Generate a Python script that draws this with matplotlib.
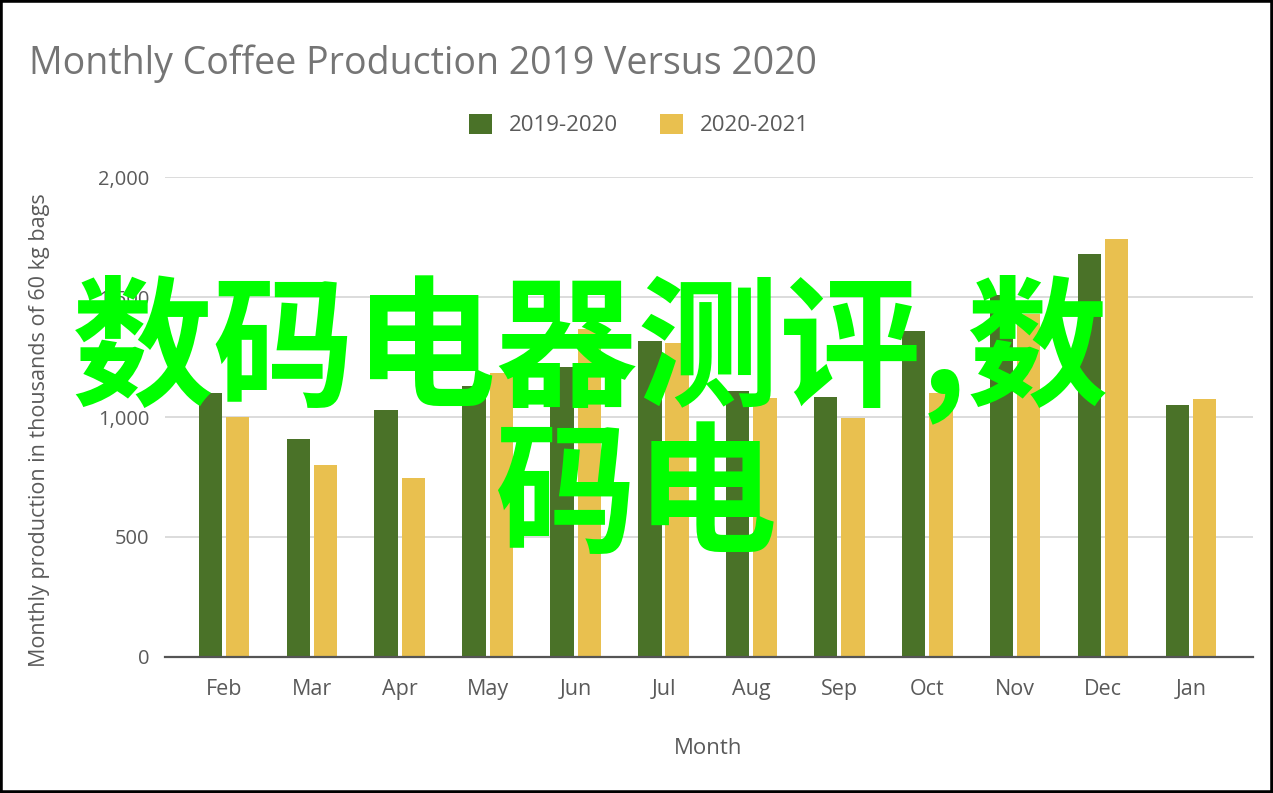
import numpy as np
import matplotlib
matplotlib.use("Agg")
import matplotlib.pyplot as plt
from matplotlib.patches import Rectangle

months = ["Feb", "Mar", "Apr", "May", "Jun", "Jul", "Aug", "Sep", "Oct", "Nov", "Dec", "Jan"]
prod_2019_2020 = [1100, 910, 1030, 1130, 1210, 1315, 1110, 1085, 1360, 1510, 1680, 1050]
prod_2020_2021 = [1000, 800, 745, 1185, 1365, 1310, 1080, 995, 1100, 1430, 1740, 1075]
series_names = ["2019-2020", "2020-2021"]
yticks = [0, 500, 1000, 1500, 2000]

green = "#4a7228"
yellow = "#e9c04f"
txt_grey = "#5a5a5a"

plt.rcParams["font.family"] = ["Open Sans", "DejaVu Sans"]

fig = plt.figure(figsize=(12.73, 7.93), dpi=100)
ax = fig.add_axes([165 / 1273, 1 - 657 / 793, 1088 / 1273, 480 / 793])

x = np.arange(len(months))
w = 0.265
ax.bar(x - 0.155, prod_2019_2020, width=w, color=green, label=series_names[0], zorder=3)
ax.bar(x + 0.155, prod_2020_2021, width=w, color=yellow, label=series_names[1], zorder=3)

ax.set_xlim(-0.67, 11.705)
ax.set_ylim(0, 2000)
ax.set_yticks(yticks)
ax.set_yticklabels(["{:,}".format(v) for v in yticks])
ax.set_xticks(x)
ax.set_xticklabels(months)
ax.tick_params(axis="both", length=0, colors=txt_grey)
ax.tick_params(axis="x", pad=16, labelsize=15.5)
ax.tick_params(axis="y", pad=11, labelsize=14.5)
ax.grid(axis="y", color="#d6d6d6", linewidth=1.2, zorder=0)
for s in ["top", "right", "left"]:
    ax.spines[s].set_visible(False)
ax.spines["bottom"].set_color("#555555")
ax.spines["bottom"].set_linewidth(1.6)
ax.spines["bottom"].set_zorder(4)

fig.text(708 / 1273, 1 - 748 / 793, "Month", ha="center", va="center", fontsize=16, color=txt_grey)
fig.text(40 / 1273, 1 - 430 / 793, "Monthly production in thousands of 60 kg bags",
         rotation=90, ha="center", va="center", fontsize=15.5, color=txt_grey)
fig.text(29 / 1273, 1 - 64 / 793, "Monthly Coffee Production 2019 Versus 2020",
         ha="left", va="center", fontsize=27, color="#757575")

fig.legend(loc="center", bbox_to_anchor=(639 / 1273, 1 - 125 / 793), ncol=2, frameon=False,
           fontsize=16, labelcolor=txt_grey, handlelength=1.05, handleheight=1.05,
           columnspacing=1.9, handletextpad=0.75)

# green overlay text on top of the chart
cjk = ["Noto Sans CJK SC", "DejaVu Sans"]
fig.text(72 / 1273, 1 - 349 / 793, "数码电器测评,数", ha="left", va="center",
         fontsize=102, fontweight="bold", color="#00ff00", family=cjk, zorder=10)
fig.text(494 / 1273, 1 - 500 / 793, "码电", ha="left", va="center",
         fontsize=102, fontweight="bold", color="#00ff00", family=cjk, zorder=10)

fig.patches.append(Rectangle((0, 0), 1, 1, transform=fig.transFigure, fill=False,
                             edgecolor="black", linewidth=4, zorder=20))

fig.savefig("out.png", dpi=100)
